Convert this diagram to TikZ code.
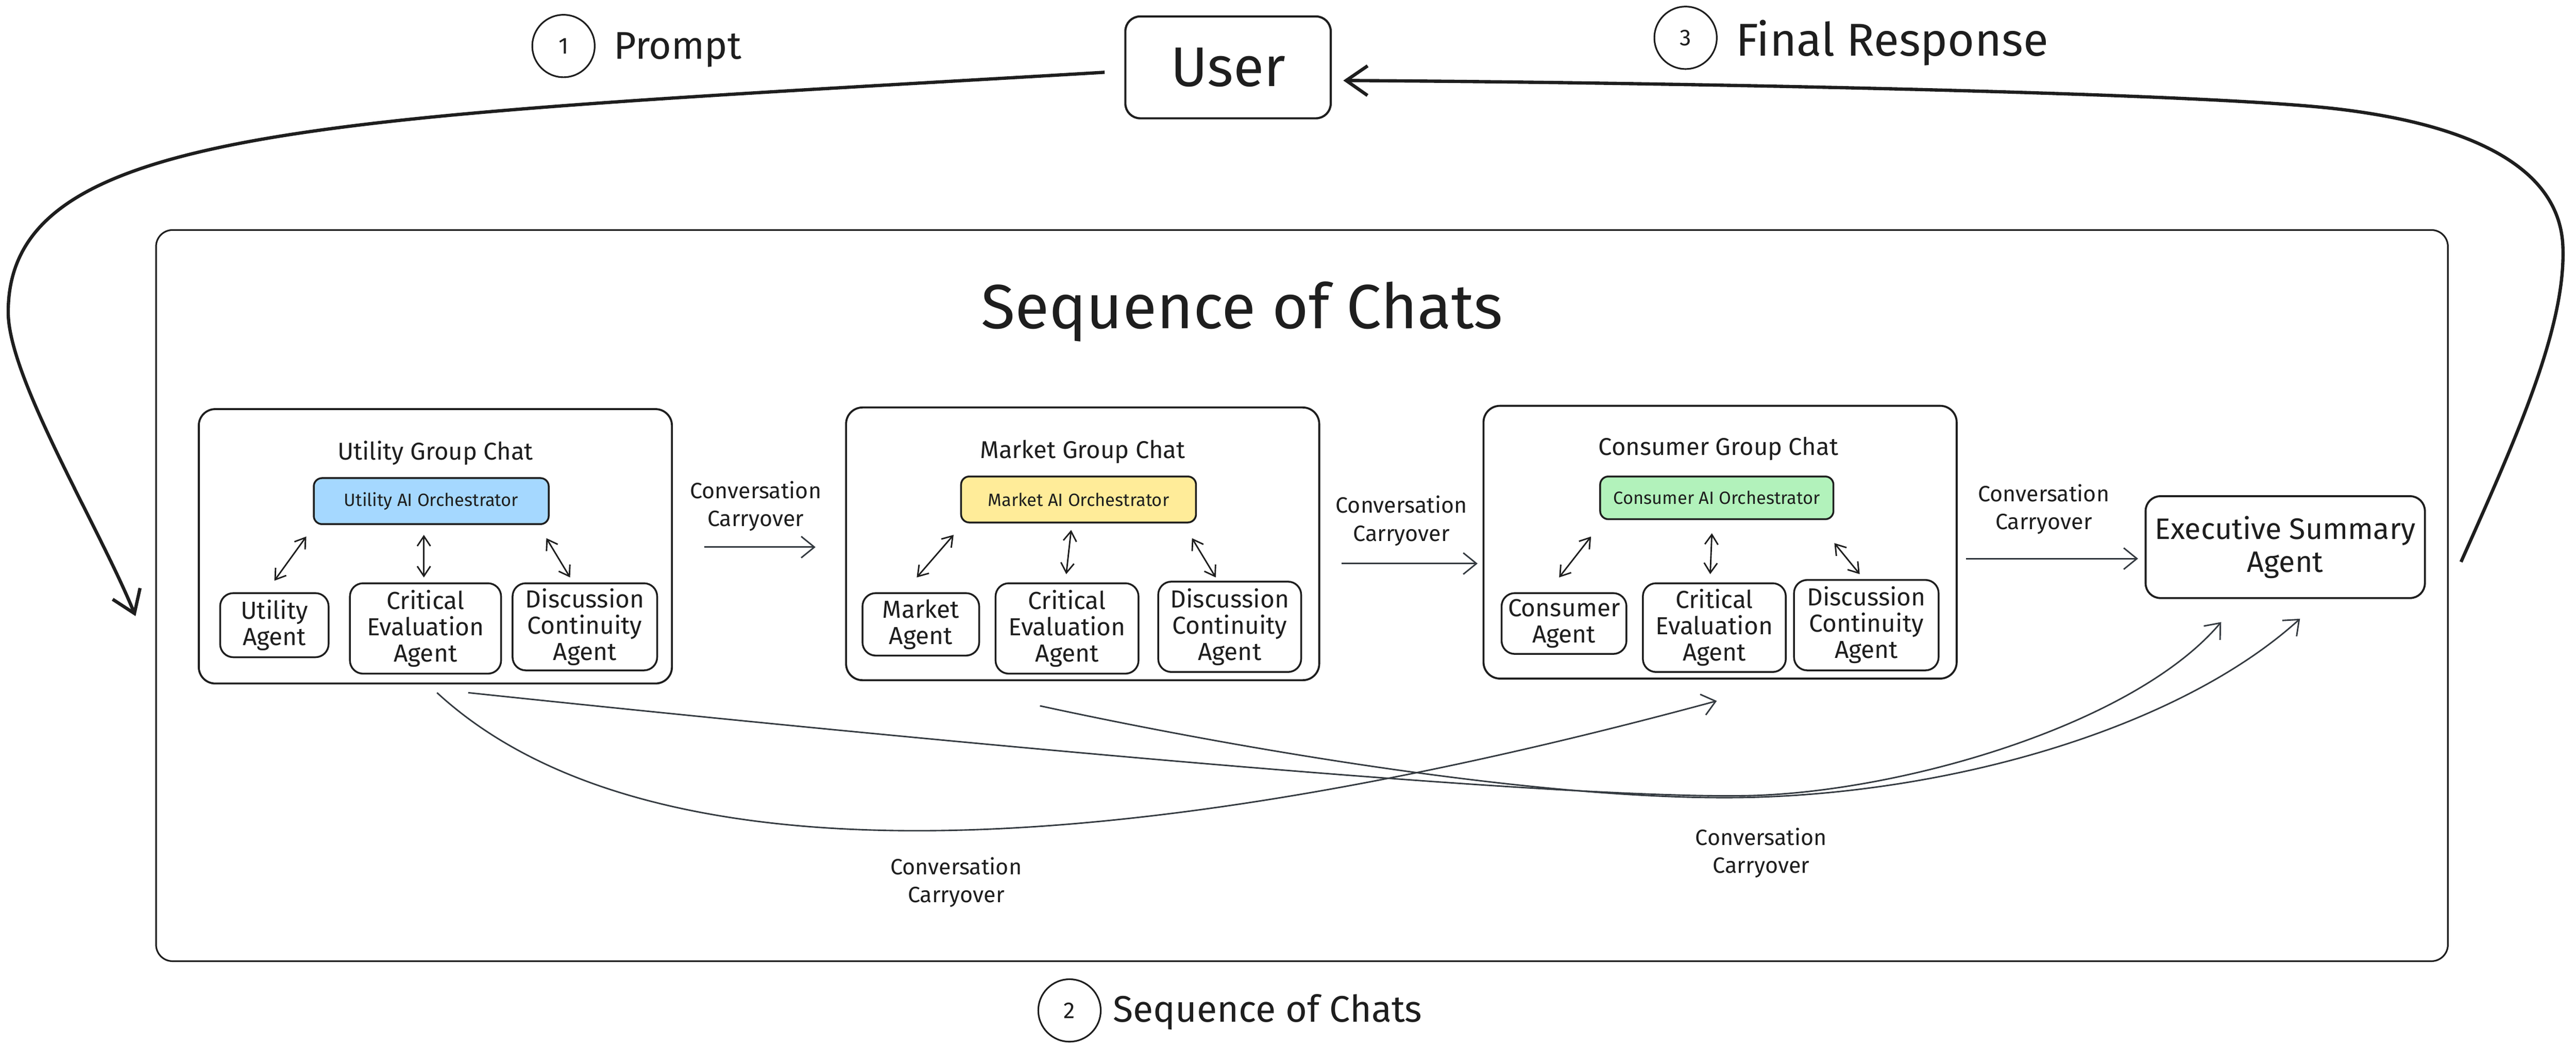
\documentclass[tikz,border=0pt]{standalone}
\usepackage{fontspec}
\setmainfont{Fira Sans}
\usetikzlibrary{arrows.meta,calc}
\definecolor{ink}{HTML}{1E1E1E}
\definecolor{thinink}{HTML}{343A40}
\definecolor{orchblue}{HTML}{A5D8FF}
\definecolor{orchyellow}{HTML}{FFEC99}
\definecolor{orchgreen}{HTML}{B2F2BB}
\begin{document}
\begin{tikzpicture}[x=1pt,y=-1pt,
  every node/.style={text=ink},
  box/.style={draw=ink, line width=1.1pt, rounded corners=7pt, align=center, inner sep=0pt},
  groupbox/.style={box, line width=1.2pt, rounded corners=10pt},
  orch/.style={box, rounded corners=5pt, font=\fontsize{10.8}{12}\selectfont},
  agent/.style={box, rounded corners=8pt, font=\fontsize{15}{16}\selectfont},
  grouptitle/.style={anchor=base, font=\fontsize{14.8}{16}\selectfont},
  lbl/.style={align=center, font=\fontsize{13.5}{17}\selectfont},
  num/.style={circle, draw=ink, line width=1pt, minimum size=38pt, inner sep=0pt, font=\fontsize{14}{14}\selectfont},
  dbl/.style={{Straight Barb[length=6pt,width=8pt]}-{Straight Barb[length=6pt,width=8pt]}, line width=0.9pt, draw=ink},
  flow/.style={-{Straight Barb[length=8pt,width=13pt]}, line width=0.9pt, draw=thinink},
  bigflow/.style={-{Straight Barb[length=13pt,width=18pt]}, line width=2pt, draw=ink}
]
\fill[white] (0,0) rectangle (1568,637.7);
\useasboundingbox (0,0) rectangle (1568,637.7);

% top
\node[box, line width=1.3pt, rounded corners=9pt, minimum width=125pt, minimum height=62pt,
      font=\fontsize{34}{36}\selectfont] (user) at (747.5,41) {User};
\node[num] (n1) at (343,28) {1};
\node[anchor=base west, font=\fontsize{23.5}{25}\selectfont] (prompt) at (370,36) {Prompt};
\node[num] (n3) at (1026,23) {3};
\node[anchor=base west, font=\fontsize{28}{30}\selectfont] (final) at (1053,34) {Final Response};

% outer frame
\node[box, line width=1pt, rounded corners=10pt, minimum width=1395pt, minimum height=445pt] (outer) at (792.5,362.5) {};
\node[anchor=base, font=\fontsize{38}{40}\selectfont] (title) at (756,200) {Sequence of Chats};

% group 1
\node[groupbox, minimum width=288pt, minimum height=167pt] (g1) at (265,332.5) {};
\node[grouptitle] (g1t) at (265,280) {Utility Group Chat};
\node[orch, fill=orchblue, minimum width=143pt, minimum height=28pt] (o1) at (262.5,305) {Utility AI Orchestrator};
\node[agent, minimum width=66pt, minimum height=39pt] (a1u) at (167,380.5) {Utility\\Agent};
\node[agent, minimum width=92pt, minimum height=55pt] (a1c) at (259,382.5) {Critical\\Evaluation\\Agent};
\node[agent, minimum width=88pt, minimum height=53pt] (a1d) at (356,381.5) {Discussion\\Continuity\\Agent};
\draw[dbl] ([shift={(-4,7)}]o1.south west) -- ([shift={(0,-7)}]a1u.north);
\draw[dbl] ([shift={(-4.5,6)}]o1.south) -- ([shift={(-1,-3)}]a1c.north);
\draw[dbl] ([shift={(-2,8)}]o1.south east) -- ([shift={(-9,-3)}]a1d.north);

% group 2
\node[groupbox, minimum width=288pt, minimum height=166pt] (g2) at (659,331) {};
\node[grouptitle] (g2t) at (659,279) {Market Group Chat};
\node[orch, fill=orchyellow, minimum width=143pt, minimum height=28pt] (o2) at (656.5,304) {Market AI Orchestrator};
\node[agent, minimum width=71pt, minimum height=38pt] (a2u) at (560.5,380) {Market\\Agent};
\node[agent, minimum width=87pt, minimum height=55pt] (a2c) at (649.5,382.5) {Critical\\Evaluation\\Agent};
\node[agent, minimum width=87pt, minimum height=55pt] (a2d) at (748.5,381.5) {Discussion\\Continuity\\Agent};
\draw[dbl] ([shift={(-4,7)}]o2.south west) -- ([shift={(-2.5,-9)}]a2u.north);
\draw[dbl] ([shift={(-4.5,4)}]o2.south) -- ([shift={(-0.5,-5)}]a2c.north);
\draw[dbl] ([shift={(-3,9)}]o2.south east) -- ([shift={(-8.5,-2)}]a2d.north);

% group 3
\node[groupbox, minimum width=288pt, minimum height=166pt] (g3) at (1047,330) {};
\node[grouptitle] (g3t) at (1046,277) {Consumer Group Chat};
\node[orch, fill=orchgreen, minimum width=142pt, minimum height=26pt] (o3) at (1045,303) {Consumer AI Orchestrator};
\node[agent, minimum width=76pt, minimum height=37pt] (a3u) at (952,379.5) {Consumer\\Agent};
\node[agent, minimum width=87pt, minimum height=54pt] (a3c) at (1043.5,382) {Critical\\Evaluation\\Agent};
\node[agent, minimum width=88pt, minimum height=55pt] (a3d) at (1136,380.5) {Discussion\\Continuity\\Agent};
\draw[dbl] ([shift={(-5,10)}]o3.south west) -- ([shift={(-3,-9)}]a3u.north);
\draw[dbl] ([shift={(-3,8)}]o3.south) -- ([shift={(-2.5,-5)}]a3c.north);
\draw[dbl] ([shift={(0,14)}]o3.south east) -- ([shift={(-4,-3)}]a3d.north);

% executive summary
\node[box, line width=1.2pt, rounded corners=9pt, minimum width=170pt, minimum height=62pt,
      font=\fontsize{18}{20}\selectfont] (exec) at (1391,333) {Executive Summary\\Agent};

% carryover labels
\node[lbl] (c1) at (460,308) {Conversation\\Carryover};
\node[lbl] (c2) at (853,317) {Conversation\\Carryover};
\node[lbl] (c3) at (1244,310) {Conversation\\Carryover};
\node[lbl] (c4) at (582,537) {Conversation\\Carryover};
\node[lbl] (c5) at (1072,519) {Conversation\\Carryover};

% horizontal carryover arrows
\draw[flow] ([shift={(19,0.5)}]g1.east) -- ([shift={(-18,2)}]g2.west);
\draw[flow] ([shift={(13,12)}]g2.east) -- ([shift={(-3,13)}]g3.west);
\draw[flow] ([shift={(5,10)}]g3.east) -- ([shift={(-4,7)}]exec.west);

% long carryover curves
\draw[flow] ([shift={(1,5)}]g1.south) .. controls (400,545) and (700,520) .. ([shift={(-2,13)}]g3.south);
\draw[flow] ([shift={(20,5)}]g1.south) .. controls (650,460) and (980,488) .. (1072,484)
            .. controls (1164,480) and (1300,440) .. ([shift={(-39,14)}]exec.south);
\draw[flow] ([shift={(-26,15)}]g2.south) .. controls (750,455) and (950,490) .. (1075,485)
            .. controls (1200,480) and (1330,440) .. ([shift={(9,12)}]exec.south);

% user loop arrows
\coordinate (promptend) at (82.5,375);
\coordinate (finalstart) at (1498,342);
\draw[bigflow] ([shift={(-12,3)}]user.west) .. controls (200,72) and (5,75) .. (5,190)
            .. controls (5,230) and (60,320) .. (promptend);
\draw[bigflow] (finalstart) .. controls (1530,270) and (1562,200) .. (1560,150)
            .. controls (1558,100) and (1500,75) .. (1420,66)
            .. controls (1330,56) and (1000,50) .. ([shift={(7,8)}]user.east);

% bottom caption
\node[num] (n2) at (651,615) {2};
\node[anchor=base west, font=\fontsize{22.5}{24}\selectfont] (seqcap) at (674,622) {Sequence of Chats};
\end{tikzpicture}
\end{document}
